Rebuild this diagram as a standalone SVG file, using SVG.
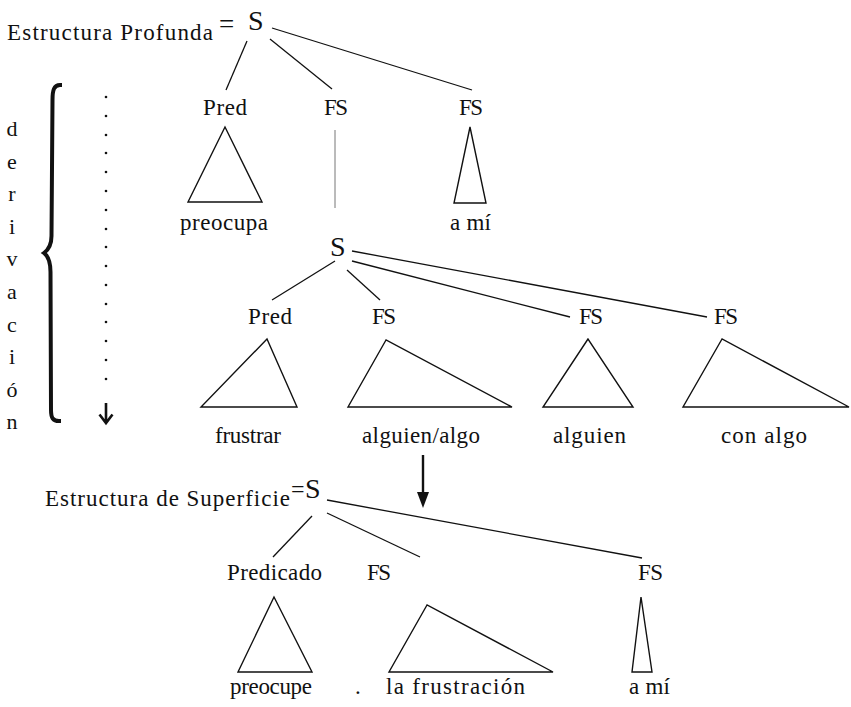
<svg xmlns="http://www.w3.org/2000/svg" width="851" height="707" viewBox="0 0 851 707" font-family="'Liberation Serif', 'DejaVu Serif', serif">
<defs>
<style>
text{font-family:'Liberation Serif','DejaVu Serif',serif;fill:#111;font-size:23px}
.s{font-size:28px}
.eq{font-size:27px}
.eq2{font-size:24px}
.tri{fill:none;stroke:#111;stroke-width:1.4;stroke-linejoin:miter}
.ln{stroke:#111;stroke-width:1.3;fill:none}
.dv{font-size:22px;text-anchor:middle}
.dot{fill:#111}
</style>
</defs>
<rect width="851" height="707" fill="#fff"/>

<g id="deep-title">
<text x="7" y="40" textLength="206" lengthAdjust="spacing">Estructura Profunda</text>
<text class="eq" x="219" y="33">=</text>
</g>
<g id="S1"><text class="s" x="248" y="30">S</text></g>
<g id="Pred1"><text x="203" y="115" textLength="44" lengthAdjust="spacing">Pred</text>
<polygon class="tri" points="225,127 188,202 262,202"/>
<text x="180" y="230" textLength="88" lengthAdjust="spacing">preocupa</text></g>
<g id="FS1a"><text x="324" y="115" textLength="24" lengthAdjust="spacing">FS</text></g>
<g id="FS1b"><text x="459" y="115" textLength="24" lengthAdjust="spacing">FS</text>
<polygon class="tri" points="470,127 454,203 486,203"/>
<text x="450" y="230" textLength="41" lengthAdjust="spacing">a mí</text></g>

<g id="S2"><text class="s" x="330" y="256">S</text></g>
<g id="Pred2"><text x="248" y="324" textLength="44" lengthAdjust="spacing">Pred</text>
<polygon class="tri" points="267,339 201,407 297,407"/>
<text x="215" y="443" textLength="66" lengthAdjust="spacing">frustrar</text></g>
<g id="FS2a"><text x="372" y="324" textLength="24" lengthAdjust="spacing">FS</text>
<polygon class="tri" points="386,340 348,407 512,407"/>
<text x="362" y="443" textLength="118" lengthAdjust="spacing">alguien/algo</text></g>
<g id="FS2b"><text x="579" y="324" textLength="24" lengthAdjust="spacing">FS</text>
<polygon class="tri" points="588,339 543,407 633,407"/>
<text x="553" y="443" textLength="73" lengthAdjust="spacing">alguien</text></g>
<g id="FS2c"><text x="714" y="324" textLength="24" lengthAdjust="spacing">FS</text>
<polygon class="tri" points="722,339 683,407 849,407"/>
<text x="721" y="443" textLength="86" lengthAdjust="spacing">con algo</text></g>

<g id="surface-title">
<text x="45" y="506" textLength="245" lengthAdjust="spacing">Estructura de Superficie</text>
<text class="eq2" x="291" y="497">=</text>
</g>
<g id="S3"><text class="s" x="305" y="498">S</text></g>
<g id="Pred3"><text x="227" y="580" textLength="95" lengthAdjust="spacing">Predicado</text>
<polygon class="tri" points="274,597 238,672 312,672"/>
<text x="230" y="694" textLength="82" lengthAdjust="spacing">preocupe</text></g>
<g id="FS3a"><text x="367" y="580" textLength="24" lengthAdjust="spacing">FS</text>
<polygon class="tri" points="427,605 389,672 553,672"/>
<text x="355" y="694">.</text>
<text x="386" y="694" textLength="139" lengthAdjust="spacing">la frustración</text></g>
<g id="FS3b"><text x="638" y="580" textLength="25" lengthAdjust="spacing">FS</text>
<polygon class="tri" points="641,597 632,672 652,672"/>
<text x="629" y="694" textLength="41" lengthAdjust="spacing">a mí</text></g>

<g id="derivacion">
<text class="dv" x="12" y="136">d</text>
<text class="dv" x="12" y="169">e</text>
<text class="dv" x="12" y="201">r</text>
<text class="dv" x="12" y="234">i</text>
<text class="dv" x="12" y="266">v</text>
<text class="dv" x="12" y="299">a</text>
<text class="dv" x="12" y="332">c</text>
<text class="dv" x="12" y="364">i</text>
<text class="dv" x="12" y="397">ó</text>
<text class="dv" x="12" y="429">n</text>
<path d="M60 85 C54 85 52.5 90 52.5 100 L51.5 236 C51.5 245 48 250 44 253 C48 256 50.5 262 50.5 272 L51 410 C51 418 53 421 59 421" fill="none" stroke="#111" stroke-width="4" stroke-linecap="square"/>
</g>
<g id="dots">
<circle class="dot" cx="106" cy="97" r="1.3"/><circle class="dot" cx="106" cy="116" r="1.3"/><circle class="dot" cx="106" cy="135" r="1.3"/><circle class="dot" cx="106" cy="153" r="1.3"/><circle class="dot" cx="106" cy="172" r="1.3"/><circle class="dot" cx="106" cy="191" r="1.3"/><circle class="dot" cx="106" cy="210" r="1.3"/><circle class="dot" cx="106" cy="229" r="1.3"/><circle class="dot" cx="106" cy="247" r="1.3"/><circle class="dot" cx="106" cy="266" r="1.3"/><circle class="dot" cx="106" cy="285" r="1.3"/><circle class="dot" cx="106" cy="304" r="1.3"/><circle class="dot" cx="106" cy="322" r="1.3"/><circle class="dot" cx="106" cy="341" r="1.3"/><circle class="dot" cx="106" cy="360" r="1.3"/><circle class="dot" cx="106" cy="379" r="1.3"/>
<path d="M106 403 L106 423 M99.5 414.5 L106 423 L112.5 414.5" fill="none" stroke="#111" stroke-width="2.6"/>
</g>

<g id="connectors">
<line class="ln" x1="247" y1="41" x2="226" y2="90"/>
<line class="ln" x1="270" y1="39" x2="332" y2="89"/>
<line class="ln" x1="272" y1="28" x2="472" y2="90"/>
<line x1="335" y1="130" x2="335" y2="208" stroke="#777" stroke-width="1"/>
<line class="ln" x1="335" y1="261" x2="272" y2="300"/>
<line class="ln" x1="347" y1="270" x2="380" y2="300"/>
<line class="ln" x1="352" y1="261" x2="570" y2="317"/>
<line class="ln" x1="352" y1="251" x2="707" y2="317"/>
<line x1="423" y1="455" x2="423" y2="494" stroke="#111" stroke-width="2.4"/>
<polygon points="417,492 429,492 423,508" fill="#111"/>
<line class="ln" x1="327" y1="500" x2="642" y2="558"/>
<line class="ln" x1="312" y1="516" x2="273" y2="557"/>
<line class="ln" x1="327" y1="513" x2="420" y2="557"/>
</g>
</svg>
